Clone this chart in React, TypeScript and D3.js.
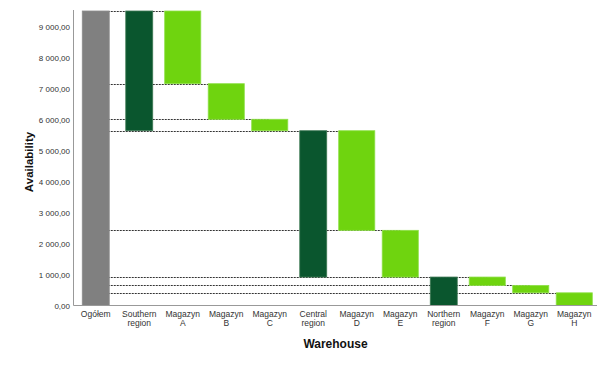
import React, { useRef, useEffect } from "react";
import * as d3 from "d3";

const width = 615;
const height = 369;

const categories = [
  "Ogółem",
  "Southern region",
  "Magazyn A",
  "Magazyn B",
  "Magazyn C",
  "Central region",
  "Magazyn D",
  "Magazyn E",
  "Northern region",
  "Magazyn F",
  "Magazyn G",
  "Magazyn H",
];
const kinds = ["total", "region", "store", "store", "store", "region", "store", "store", "region", "store", "store", "store"];
const values = [9520, 3870, 2350, 1150, 370, 4730, 3220, 1510, 920, 270, 240, 410];
const yTicks = [0, 1000, 2000, 3000, 4000, 5000, 6000, 7000, 8000, 9000];

const colors: Record<string, string> = {
  total: "#808080",
  region: "#0a562e",
  store: "#6fd40f",
};
const strokes: Record<string, string> = {
  total: "#8c8c8c",
  region: "#3f7a55",
  store: "#8ee048",
};

export default function App() {
  const ref = useRef<SVGSVGElement | null>(null);

  useEffect(() => {
    const svg = d3.select(ref.current);
    svg.selectAll("*").remove();

    const x = d3.scaleBand<string>().domain(categories).range([74, 596]).padding(0);
    const y = d3.scaleLinear().domain([0, 9520]).range([305.5, 11]);
    const fmt = d3
      .formatLocale({ decimal: ",", thousands: " ", grouping: [3], currency: ["", ""] })
      .format(",.2f");

    // running levels -> bar extents
    let level = values[0];
    let storeLevel = level;
    const bars = categories.map((c, i) => {
      const k = kinds[i];
      const v = values[i];
      if (k === "total") return { c, k, lo: 0, hi: v };
      if (k === "region") {
        const b = { c, k, lo: level - v, hi: level };
        storeLevel = level;
        level -= v;
        return b;
      }
      const b = { c, k, lo: storeLevel - v, hi: storeLevel };
      storeLevel -= v;
      return b;
    });

    const cx = (c: string) => x(c)! + x.bandwidth() / 2;
    const bw = (k: string) => x.bandwidth() * (k === "store" ? 0.83 : 0.62);

    // connector lines (behind bars)
    svg
      .append("g")
      .selectAll("line")
      .data(bars.filter((b) => b.k === "store"))
      .enter()
      .append("line")
      .attr("x1", cx(categories[0]))
      .attr("x2", (d) => cx(d.c))
      .attr("y1", (d) => Math.round(y(d.hi)) + 0.5)
      .attr("y2", (d) => Math.round(y(d.hi)) + 0.5)
      .attr("stroke", "#333")
      .attr("stroke-width", 1)
      .attr("stroke-dasharray", "2,1");

    // bars
    svg
      .append("g")
      .selectAll("rect")
      .data(bars)
      .enter()
      .append("rect")
      .attr("x", (d) => cx(d.c) - bw(d.k) / 2)
      .attr("width", (d) => bw(d.k))
      .attr("y", (d) => y(d.hi))
      .attr("height", (d) => y(d.lo) - y(d.hi))
      .attr("fill", (d) => colors[d.k])
      .attr("stroke", (d) => strokes[d.k])
      .attr("stroke-width", 0.8);

    // axes lines
    svg
      .append("line")
      .attr("x1", 73.5)
      .attr("x2", 73.5)
      .attr("y1", 10)
      .attr("y2", 305.5)
      .attr("stroke", "#999");
    svg
      .append("line")
      .attr("x1", 73.5)
      .attr("x2", 597)
      .attr("y1", 305.5)
      .attr("y2", 305.5)
      .attr("stroke", "#999");

    // y tick labels
    svg
      .append("g")
      .selectAll("text")
      .data(yTicks)
      .enter()
      .append("text")
      .attr("x", 70)
      .attr("y", (d) => y(d) + 3)
      .attr("text-anchor", "end")
      .attr("font-family", "Liberation Sans, Arial, sans-serif")
      .attr("font-size", 8)
      .attr("fill", "#333")
      .text((d) => fmt(d));

    // x tick labels
    const xl = svg
      .append("g")
      .selectAll("text")
      .data(categories)
      .enter()
      .append("text")
      .attr("text-anchor", "middle")
      .attr("font-family", "Liberation Sans, Arial, sans-serif")
      .attr("font-size", 8.5)
      .attr("fill", "#333");
    xl.each(function (d) {
      const parts = d.split(" ");
      const t = d3.select(this);
      parts.forEach((p, j) => {
        t.append("tspan")
          .attr("x", cx(d))
          .attr("y", 317 + j * 9)
          .text(p);
      });
    });

    // axis titles
    svg
      .append("text")
      .attr("transform", "translate(33,162) rotate(-90)")
      .attr("text-anchor", "middle")
      .attr("font-family", "Liberation Sans, Arial, sans-serif")
      .attr("font-size", 11.5)
      .attr("font-weight", "bold")
      .attr("fill", "#111")
      .text("Availability");
    svg
      .append("text")
      .attr("x", 335.5)
      .attr("y", 348)
      .attr("text-anchor", "middle")
      .attr("font-family", "Liberation Sans, Arial, sans-serif")
      .attr("font-size", 12)
      .attr("font-weight", "bold")
      .attr("fill", "#111")
      .text("Warehouse");
  }, []);

  return (
    <svg
      ref={ref}
      width={width}
      height={height}
      style={{ position: "absolute", left: 0, top: 0, background: "#fff" }}
    />
  );
}
